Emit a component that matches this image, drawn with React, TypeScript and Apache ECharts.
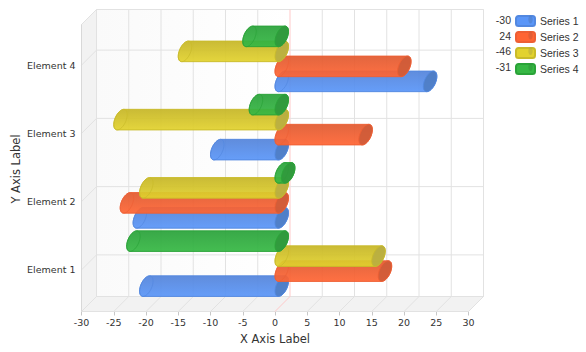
import React, { useEffect, useRef } from "react";
import * as echarts from "echarts";

const categories = ["Element 1", "Element 2", "Element 3", "Element 4"];
const seriesNames = ["Series 1", "Series 2", "Series 3", "Series 4"];
const series1 = [-21, -22, -10, 23];
const series2 = [16, -24, 13, 19];
const series3 = [15, -21, -25, -15];
const series4 = [-23, 1, -4, -5];
const legendTotals = ["-30", "24", "-46", "-31"];
const xTicks = [-30, -25, -20, -15, -10, -5, 0, 5, 10, 15, 20, 25, 30];
const bodyTop = ["#5484da", "#e05a30", "#c6b626", "#2aa23a"];
const bodyBottom = ["#5a96f8", "#ff6534", "#e2d22e", "#36b844"];
const strokes = ["#5288e0", "#ee5f34", "#c9bb2a", "#2aa338"];
const caps = ["#4c7bc2", "#cc5a38", "#b6ac42", "#2f963b"];
const allValues = [series1, series2, series3, series4];

const DEPTH = 15;
const BAR_A = 6.75;
const BAR_B = 9;
const BAR_C = 5;
const STEP = 15;
const PAD = 7.5;
const GRID = "#e2e2e2";

function arc(cx: number, cy: number, from: number, to: number, n = 18) {
  const pts: number[][] = [];
  for (let k = 0; k <= n; k++) {
    const t = from + ((to - from) * k) / n;
    pts.push([cx + BAR_A * Math.sin(t), cy - BAR_B * Math.cos(t) - BAR_C * Math.sin(t)]);
  }
  return pts;
}

function barRenderer(s: number) {
  return (_params: any, api: any) => {
    const v = api.value(0);
    const i = api.value(1);
    const end = api.coord([v, i]);
    const base = api.coord([0, i]);
    const cy = base[1] - 6.25 + (1.5 - s) * STEP;
    const lx = Math.min(end[0], base[0]) + BAR_A;
    const rx = Math.max(end[0], base[0]) + BAR_A;
    const t0 = Math.atan2(BAR_C, BAR_B);
    const outline = [...arc(rx, cy, t0, t0 + Math.PI), ...arc(lx, cy, t0 + Math.PI, t0 + 2 * Math.PI)];
    return {
      type: "group",
      children: [
        {
          type: "polygon",
          shape: { points: outline },
          style: {
            fill: new echarts.graphic.LinearGradient(0, 0, 0, 1, [
              { offset: 0, color: bodyTop[s] },
              { offset: 1, color: bodyBottom[s] },
            ]),
            stroke: strokes[s],
            lineWidth: 1,
            opacity: 0.93,
          },
        },
        {
          type: "polygon",
          shape: { points: arc(lx, cy, 0, 2 * Math.PI, 36) },
          style: { fill: "none", stroke: strokes[s], lineWidth: 1, opacity: 0.7 },
        },
        {
          type: "polygon",
          shape: { points: arc(rx, cy, 0, 2 * Math.PI, 36) },
          style: { fill: caps[s], stroke: strokes[s], lineWidth: 1, opacity: 0.85 },
        },
      ],
    };
  };
}

function wallRenderer(params: any, api: any) {
  const c = params.coordSys;
  const l = c.x;
  const r = c.x + c.width;
  const top = c.y - PAD + 1;
  const bottom = c.y + c.height + PAD;
  const line = (x1: number, y1: number, x2: number, y2: number, stroke = GRID) => ({
    type: "line",
    shape: { x1, y1, x2, y2 },
    style: { stroke, lineWidth: 1 },
  });
  const children: any[] = [
    {
      type: "rect",
      shape: { x: l + DEPTH, y: top - DEPTH, width: c.width, height: bottom - top },
      style: {
        fill: new echarts.graphic.LinearGradient(0, 0, 1, 0, [
          { offset: 0, color: "#fafafa" },
          { offset: 0.5, color: "#ffffff" },
          { offset: 1, color: "#ffffff" },
        ]),
        stroke: GRID,
      },
    },
    {
      type: "polygon",
      shape: { points: [[l, top], [l + DEPTH, top - DEPTH], [l + DEPTH, bottom - DEPTH], [l, bottom]] },
      style: { fill: "#f2f2f2", stroke: GRID },
    },
    {
      type: "polygon",
      shape: { points: [[l, bottom], [l + DEPTH, bottom - DEPTH], [r + DEPTH, bottom - DEPTH], [r, bottom]] },
      style: { fill: "#f2f2f2", stroke: GRID },
    },
  ];
  xTicks.forEach((t) => {
    const x = api.coord([t, 0])[0];
    const color = t === 0 ? "#ffc9c9" : GRID;
    children.push(line(x + DEPTH, top - DEPTH, x + DEPTH, bottom - DEPTH, color));
    children.push(line(x, bottom, x + DEPTH, bottom - DEPTH, color));
  });
  categories.forEach((_, i) => {
    const y = api.coord([0, i])[1];
    children.push(line(l + DEPTH, y - DEPTH, r + DEPTH, y - DEPTH));
    children.push(line(l, y, l + DEPTH, y - DEPTH));
  });
  children.push(line(l, top, l, bottom, "#d8d8d8"));
  return { type: "group", children };
}

export default function App() {
  const ref = useRef<HTMLDivElement>(null);
  useEffect(() => {
    const chart = echarts.init(ref.current!, undefined, { renderer: "svg" });
    const labelFont = "'DejaVu Sans'";
    const legendY = [19.5, 35.5, 51, 67];
    chart.setOption({
      animation: false,
      grid: { left: 81.5, width: 387, top: 31, height: 273, containLabel: false, outerBoundsMode: "none" },
      xAxis: {
        type: "value",
        min: -30,
        max: 30,
        interval: 5,
        offset: 7.5,
        name: "X Axis Label",
        nameLocation: "middle",
        nameGap: 21,
        nameTextStyle: { fontFamily: labelFont, fontSize: 11.5, color: "#333" },
        axisLine: { show: true, onZero: false, lineStyle: { color: "#d0d0d0" } },
        axisTick: { show: true, length: 4, lineStyle: { color: "#c8c8c8" } },
        axisLabel: { fontFamily: labelFont, fontSize: 9.5, color: "#333", margin: 6, hideOverlap: false },
        splitLine: { show: false },
      },
      yAxis: {
        type: "category",
        data: categories,
        axisLine: { show: false },
        axisTick: { show: true, alignWithLabel: true, length: 4, lineStyle: { color: "#c8c8c8" } },
        axisLabel: { fontFamily: labelFont, fontSize: 9.5, color: "#333", margin: 6 },
        splitLine: { show: false },
      },
      legend: {
        data: seriesNames,
        orient: "vertical",
        left: 510,
        top: 10,
        itemWidth: 19,
        itemHeight: 10,
        itemGap: 4,
        icon: "roundRect",
        selectedMode: false,
        textStyle: { fontFamily: "'Liberation Sans'", fontSize: 10.5, color: "#333" },
      },
      graphic: [
        {
          type: "text",
          x: 16,
          y: 169,
          rotation: Math.PI / 2,
          style: {
            text: "Y Axis Label",
            fontFamily: labelFont,
            fontSize: 11.5,
            fill: "#333",
            align: "center",
            verticalAlign: "middle",
          },
        },
        ...legendTotals.map((t, i) => ({
          type: "text",
          x: 511,
          y: legendY[i],
          style: {
            text: t,
            fontFamily: "'Liberation Sans'",
            fontSize: 10.5,
            fill: "#333",
            align: "right",
            verticalAlign: "middle",
          },
        })),
        ...caps.map((color, i) => ({
          type: "ellipse",
          shape: { cx: 530.5, cy: legendY[i], rx: 2.2, ry: 4 },
          style: { fill: color, opacity: 0.55 },
          z: 10,
        })),
      ],
      series: [
        {
          type: "custom",
          coordinateSystem: "cartesian2d",
          silent: true,
          data: [[0, 0]],
          renderItem: wallRenderer,
          z: 1,
        },
        ...allValues.map((vals, s) => ({
          type: "custom",
          name: seriesNames[s],
          coordinateSystem: "cartesian2d",
          encode: { x: 0, y: 1 },
          data: vals.map((v, i) => [v, i]),
          renderItem: barRenderer(s),
          itemStyle: { color: bodyBottom[s], borderColor: strokes[s], borderWidth: 1 },
          z: 2 + s,
        })),
      ],
    });
    return () => chart.dispose();
  }, []);
  return <div ref={ref} style={{ position: "absolute", left: 0, top: 0, width: 586, height: 352 }} />;
}
